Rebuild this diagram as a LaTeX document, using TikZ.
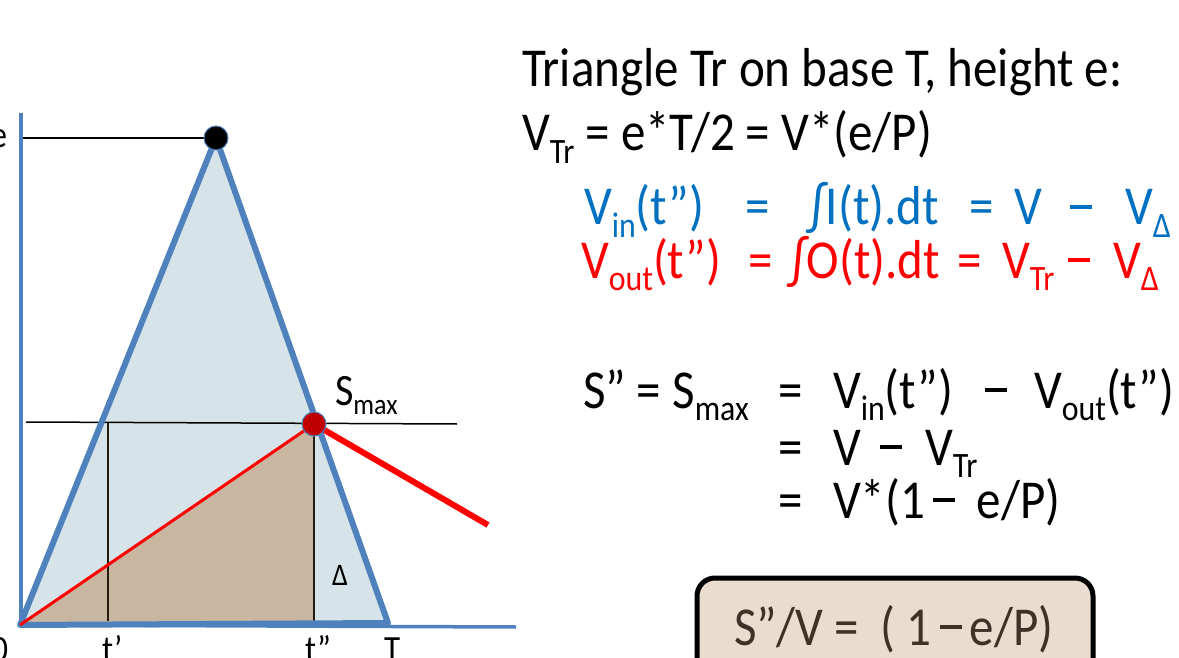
\documentclass[tikz,border=0pt]{standalone}
\usepackage{fontspec}
\setmainfont{Carlito}
\usepackage{graphicx}
\definecolor{triFill}{RGB}{214,227,232}
\definecolor{edgeBlue}{RGB}{79,129,189}
\definecolor{tanFill}{RGB}{200,182,161}
\definecolor{dotRed}{RGB}{192,0,0}
\definecolor{txtBlue}{RGB}{0,112,192}
\definecolor{boxFill}{RGB}{234,221,207}
\definecolor{boxTxt}{RGB}{64,49,38}
\newcommand\tall[1]{\scalebox{1}[1.12]{#1}}
\newcommand\lo[1]{\raisebox{-0.22em}{\scalebox{0.65}{#1}}}
\newcommand\mn{\raisebox{0.3em}{\rule{0.44em}{0.065em}}}
\begin{document}
\begin{tikzpicture}[x=1pt,y=-1pt,
  every node/.style={inner sep=0pt,outer sep=0pt},
  bigtxt/.style={font=\fontsize{49}{58}\selectfont, anchor=base west},
  axlbl/.style={font=\fontsize{33}{40}\selectfont, anchor=base west},
  edgest/.style={draw=edgeBlue, line width=6pt, line join=round},
  thinblk/.style={draw=black, line width=1.5pt},
  dotst/.style={circle, draw=edgeBlue, line width=1pt, minimum size=24pt}]
\useasboundingbox (0,0) rectangle (1179,658);
\coordinate (O) at (20,625);
\coordinate (A) at (216,138);
\coordinate (B) at (388,623);
\coordinate (Sm) at (314,424);
\coordinate (Sb) at (314,623);
\coordinate (Y0) at (21,113);
\coordinate (YB) at (21,625);
\coordinate (Xe) at (516,627);
\coordinate (H1) at (22,138);
\coordinate (H2l) at (26,422);
\coordinate (H2r) at (457,424);
\coordinate (Tp) at (108,423);
\coordinate (Tpb) at (108,621);
\coordinate (Rend) at (488,525);
% fills
\fill[triFill] (O) -- (A) -- (B) -- cycle;
\fill[tanFill] (O) -- (Sm) -- (Sb) -- cycle;
% thin black lines
\draw[thinblk] (H2l) -- (H2r);
\draw[draw=black!80!brown, line width=1.3pt] (Tp) -- (Tpb);
\draw[draw=black!80!brown, line width=1.3pt] (Sm) -- (Sb);
\draw[thinblk] (H1) -- (A);
% triangle outline and axes
\draw[edgest] (O) -- (A) -- (B) -- cycle;
\draw[edgeBlue, line width=4pt] (Y0) -- (YB);
\draw[edgeBlue, line width=3.5pt] (O) -- (Xe);
% dots
\node[dotst, fill=black] (top) at (A) {};
\draw[red, line width=6pt] (Sm) -- (Rend);
\draw[red, line width=3pt] (O) -- (Sm);
\node[dotst, fill=dotRed] (smax) at (Sm) {};
% graph labels
\node[font=\fontsize{33}{40}\selectfont, anchor=base east] (elbl) at (7,148) {\tall{e}};
\node[font=\fontsize{33}{40}\selectfont, anchor=base east] (olbl) at (8,661) {\tall{0}};
\node[axlbl] (tp) at (102,661) {\tall{t’}};
\node[axlbl] (tpp) at (305,661) {\tall{t”}};
\node[axlbl] (tT) at (384,661) {\tall{T}};
\node[font=\fontsize{28}{34}\selectfont, anchor=base west] (dl) at (332,585) {\tall{Δ}};
\node[font=\fontsize{40}{48}\selectfont, anchor=base west] (smaxl) at (335,405) {\tall{S\lo{max}}};
% right texts
\node[bigtxt] (l1) at (522,87) {\tall{Triangle Tr on base T, height e:}};
\node[bigtxt] (l2) at (522,151) {\tall{V\lo{Tr} = e*T/2 = V*(e/P)}};
% blue row
\begin{scope}[every node/.append style={text=txtBlue}]
\node[bigtxt] (b1) at (584,225) {\tall{V\lo{in}(t”)}};
\node[bigtxt] (b2) at (745,225) {\tall{=}};
\node[bigtxt] (b3) at (808,225) {\tall{∫I(t).dt}};
\node[bigtxt] (b4) at (969,225) {\tall{=}};
\node[bigtxt] (b5) at (1014,225) {\tall{V}};
\node[bigtxt] (b6) at (1070,225) {\tall{\mn}};
\node[bigtxt] (b7) at (1125,225) {\tall{V\lo{Δ}}};
\end{scope}
% red row
\begin{scope}[every node/.append style={text=red}]
\node[bigtxt] (r1) at (581,278) {\tall{V\lo{out}(t”)}};
\node[bigtxt] (r2) at (748,278) {\tall{=}};
\node[bigtxt] (r3) at (789,278) {\tall{∫O(t).dt}};
\node[bigtxt] (r4) at (957,278) {\tall{=}};
\node[bigtxt] (r5) at (1002,278) {\tall{V\lo{Tr}}};
\node[bigtxt] (r6) at (1068,278) {\tall{\mn}};
\node[bigtxt] (r7) at (1113,278) {\tall{V\lo{Δ}}};
\end{scope}
% S rows
\node[bigtxt] (s1) at (583,408) {\tall{S” = S\lo{max}}};
\node[bigtxt] (s2) at (778,408) {\tall{=}};
\node[bigtxt] (s3) at (833,408) {\tall{V\lo{in}(t”)}};
\node[bigtxt] (s4) at (985,408) {\tall{\mn}};
\node[bigtxt] (s5) at (1034,408) {\tall{V\lo{out}(t”)}};
\node[bigtxt] (s6) at (778,465) {\tall{=}};
\node[bigtxt] (s7) at (833,465) {\tall{V}};
\node[bigtxt] (s8) at (880,465) {\tall{\mn}};
\node[bigtxt] (s9) at (925,465) {\tall{V\lo{Tr}}};
\node[bigtxt] (s10) at (778,518) {\tall{=}};
\node[bigtxt] (s11) at (833,518) {\tall{V*(1\,\mn\ \ e/P)}};
% box
\node[draw=black, line width=5pt, rounded corners=18pt, fill=boxFill,
      minimum width=396pt, minimum height=110pt, anchor=north west] (box) at (697,578) {};
\node[bigtxt, text=boxTxt] (boxt) at (734,645) {\tall{S”/V =\ \ ( 1\,\mn\,e/P)}};
\end{tikzpicture}
\end{document}
